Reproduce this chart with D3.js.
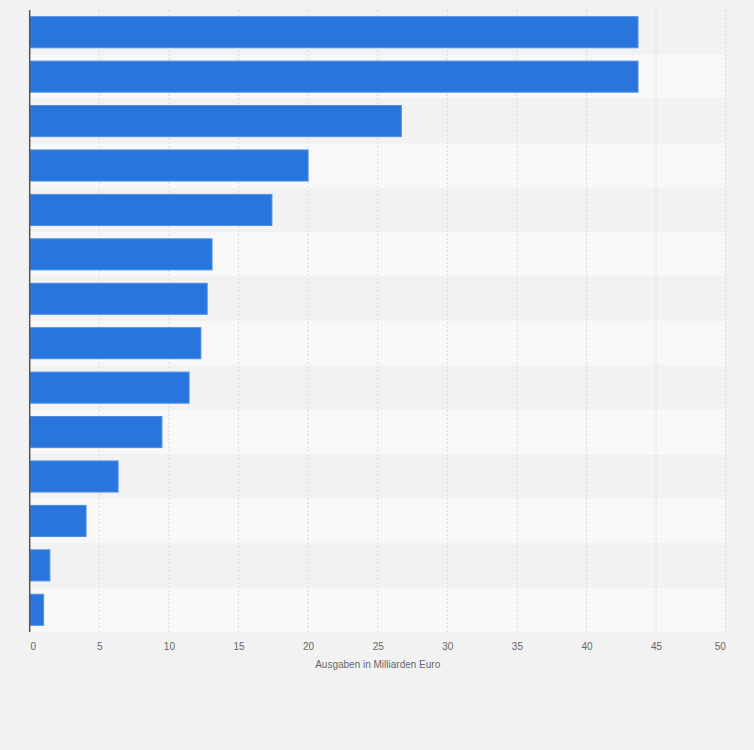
<!DOCTYPE html>
<html>
<head>
<meta charset="utf-8">
<script src="https://cdn.jsdelivr.net/npm/d3@7"></script>
<style>
  html, body { margin: 0; padding: 0; background: #f2f2f2; }
  svg { display: block; font-family: "Liberation Sans", Arial, sans-serif; }
</style>
</head>
<body>
<svg id="chart" width="754" height="750"></svg>
<script>
const categories = ["K1","K2","K3","K4","K5","K6","K7","K8","K9","K10","K11","K12","K13","K14"];
const values = [43.7, 43.7, 26.7, 20.0, 17.4, 13.1, 12.75, 12.3, 11.45, 9.5, 6.35, 4.05, 1.45, 1.0];
const xTicks = [0, 5, 10, 15, 20, 25, 30, 35, 40, 45, 50];
const xTitle = "Ausgaben in Milliarden Euro";

const svg = d3.select("#chart");
const W = 754, H = 750;
const m = { left: 29.7, right: 28.3, top: 10, bottom: 118 };
const x = d3.scaleLinear().domain([0, 50]).range([m.left, W - m.right]);
const y = d3.scaleBand().domain(categories).range([m.top, H - m.bottom]).paddingInner(0.3).paddingOuter(0.15);
const rows = d3.scaleBand().domain(categories).range([m.top, H - m.bottom]).padding(0);

svg.append("rect").attr("width", W).attr("height", H).attr("fill", "#f2f2f2");

// alternating row bands
svg.append("g").selectAll("rect").data(categories).join("rect")
  .attr("x", x(0)).attr("width", x(50) - x(0))
  .attr("y", d => rows(d)).attr("height", rows.bandwidth())
  .attr("fill", (d, i) => i % 2 === 0 ? "#f2f2f2" : "#f8f8f8");

// gridlines
svg.append("g").selectAll("line").data(xTicks.slice(1)).join("line")
  .attr("x1", d => x(d)).attr("x2", d => x(d))
  .attr("y1", m.top).attr("y2", H - m.bottom)
  .attr("stroke", "#dadada").attr("stroke-width", 1).attr("stroke-dasharray", "2,2");

// bars
svg.append("g").selectAll("rect").data(values).join("rect")
  .attr("x", x(0))
  .attr("y", (d, i) => y(categories[i]))
  .attr("width", d => x(d) - x(0))
  .attr("height", y.bandwidth())
  .attr("fill", "#2876dd")
  .attr("stroke", "#4f90e6").attr("stroke-width", 1);

// y axis line
svg.append("line")
  .attr("x1", x(0)).attr("x2", x(0))
  .attr("y1", m.top).attr("y2", H - m.bottom)
  .attr("stroke", "#555").attr("stroke-width", 1.5);

// x axis tick labels
const axis = d3.axisBottom(x).tickValues(xTicks).tickSize(0).tickPadding(0).tickFormat(d3.format("d"));
const gx = svg.append("g").attr("transform", `translate(0,${H - m.bottom + 11})`).call(axis);
gx.select(".domain").remove();
gx.selectAll("text")
  .attr("font-size", "10px").attr("fill", "#666")
  .attr("font-family", "Liberation Sans, Arial, sans-serif")
  .attr("dx", d => d === 0 ? 3 : (d === 50 ? -6 : 0));

// axis title
svg.append("text")
  .attr("x", x(25)).attr("y", H - m.bottom + 36)
  .attr("text-anchor", "middle")
  .attr("font-size", "10px").attr("fill", "#666")
  .text(xTitle);
</script>
</body>
</html>
